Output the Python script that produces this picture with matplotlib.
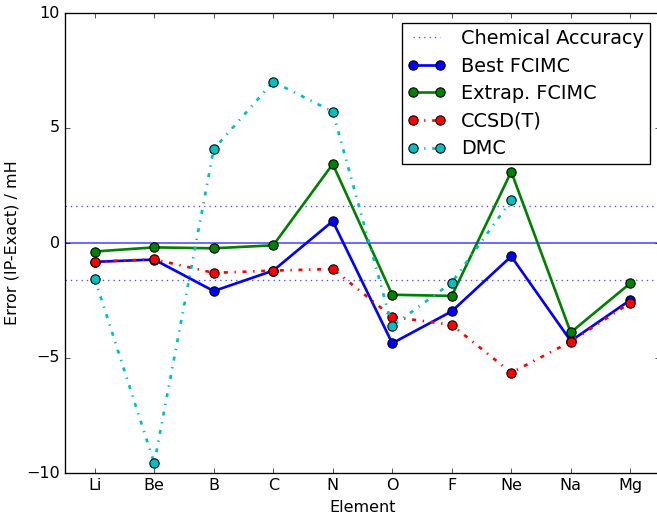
"""Ionisation potential errors per element for FCIMC, CCSD(T) and DMC."""

import matplotlib

matplotlib.use("Agg")
import matplotlib.pyplot as plt  # noqa: E402

plt.style.use("classic")

elements = ["Li", "Be", "B", "C", "N", "O", "F", "Ne", "Na", "Mg"]
best_fcimc = [-0.82, -0.72, -2.09, -1.20, 0.95, -4.36, -2.97, -0.58, -4.26, -2.48]
extrap_fcimc = [-0.37, -0.19, -0.23, -0.10, 3.43, -2.25, -2.30, 3.10, -3.89, -1.75]
ccsd_t = [-0.81, -0.71, -1.30, -1.20, -1.13, -3.21, -3.56, -5.64, -4.29, -2.60]
dmc = [-1.55, -9.58, 4.08, 7.01, 5.71, -3.61, -1.72, 1.85, None, None]
chem_acc = 1.6  # 1 kcal/mol in mH

x = list(range(1, len(elements) + 1))

DPI = 96
fig = plt.figure(figsize=(657 / DPI, 516 / DPI), dpi=DPI, facecolor="white")
ax = fig.add_axes([65 / 657, 43 / 516, 595 / 657, 460 / 516])

ax.axhline(0, color="b", lw=1.2, alpha=0.7)
ax.axhline(chem_acc, color="b", ls=":", lw=1, alpha=0.7, label="Chemical Accuracy")
ax.axhline(-chem_acc, color="b", ls=":", lw=1, alpha=0.7)

kw = dict(marker="o", markersize=7, markeredgecolor="k", markeredgewidth=0.8)
ax.plot(x, best_fcimc, "b-", lw=2, label="Best FCIMC", **kw)
ax.plot(x, extrap_fcimc, "g-", lw=2, label="Extrap. FCIMC", **kw)
ax.plot(x, ccsd_t, "r-.", lw=2, label="CCSD(T)", **kw)
xd = [xi for xi, v in zip(x, dmc) if v is not None]
yd = [v for v in dmc if v is not None]
ax.plot(xd, yd, "c-.", lw=2, label="DMC", **kw)

ax.set_xlim(0.5, 10.5)
ax.set_ylim(-10, 10)
ax.set_xticks(x)
ax.set_xticklabels(elements)
ax.set_yticks([-10, -5, 0, 5, 10])
ax.set_xlabel("Element")
ax.set_ylabel("Error (IP-Exact) / mH")
ax.legend(loc="upper right", numpoints=2, fontsize=14.4, borderpad=0.3,
          labelspacing=0.45, borderaxespad=0,
          bbox_to_anchor=(0.983, 0.978))

fig.savefig("out.png", dpi=DPI, facecolor="white")
